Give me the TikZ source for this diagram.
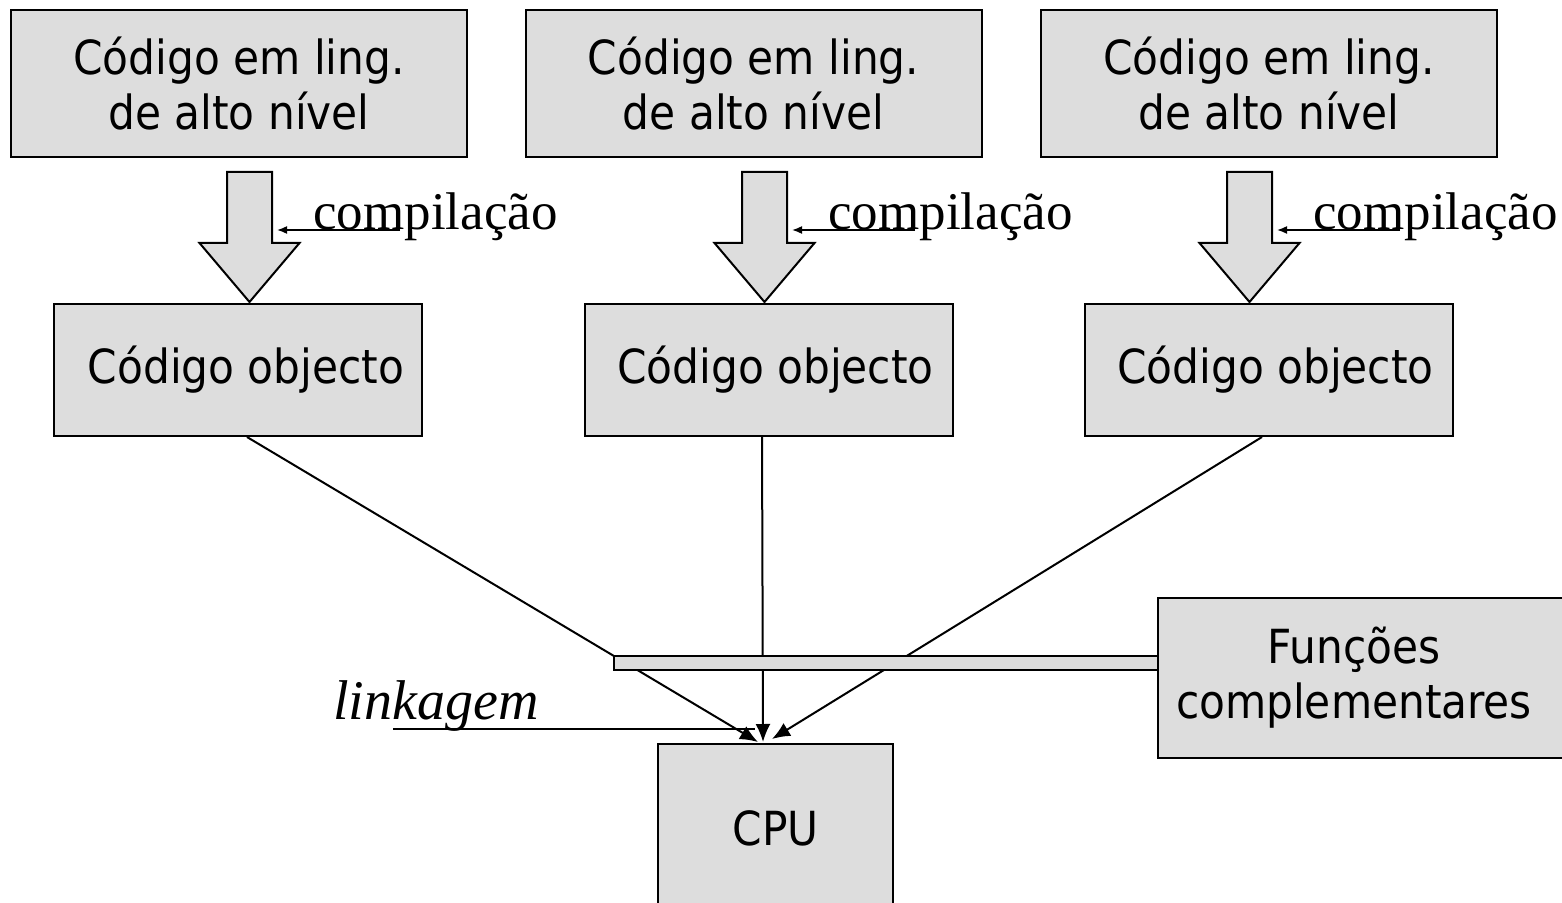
\documentclass[tikz,border=0pt]{standalone}
\usepackage{fontspec}
\setmainfont{Liberation Serif}
\newfontfamily\boxfont{DejaVu Sans Condensed}
\usepackage{tikz}
\usetikzlibrary{shapes,arrows,arrows.meta,calc}
\definecolor{boxgray}{RGB}{221,221,221}
\tikzstyle{line} = [draw, line width=1pt, -{Latex[length=9pt,width=7.5pt]}]
\tikzstyle{pointer} = [draw, line width=0.8pt, -{Latex[length=5pt,width=4pt]}]
\tikzstyle{block} = [draw, rectangle, fill=boxgray, line width=1pt, align=center, font=\boxfont\fontsize{23.5}{27.5}\selectfont]
\tikzstyle{fat} = [draw, fill=boxgray, line width=1pt, line join=miter]
\tikzstyle{note} = [inner sep=0pt, font=\fontsize{26.5}{32}\selectfont]

\begin{document}
\begin{tikzpicture}[x=0.5pt, y=-0.5pt]
        \useasboundingbox (0,0) rectangle (1562,903);
        % source code
        \node[block, minimum width=228pt, minimum height=73.5pt] (src1) at (239,83.5) {Código em ling.\\de alto nível};
        \node[block, minimum width=228pt, minimum height=73.5pt] (src2) at (753.5,83.5) {Código em ling.\\de alto nível};
        \node[block, minimum width=228pt, minimum height=73.5pt] (src3) at (1269,83.5) {Código em ling.\\de alto nível};
        % object code
        \node[block, minimum width=184pt, minimum height=66pt] (obj1) at (238,370) {\hspace*{8pt}Código objecto};
        \node[block, minimum width=184pt, minimum height=66pt] (obj2) at (768.5,370) {\hspace*{7pt}Código objecto};
        \node[block, minimum width=184pt, minimum height=66pt] (obj3) at (1268.5,370) {\hspace*{7pt}Código objecto};
        \node[block, minimum width=117.5pt, minimum height=84pt] (cpu) at (775.5,828) {CPU};
        \node[block, minimum width=212pt, minimum height=80pt] (lib) at (1370,678) {\hspace*{-16pt}Funções\\\hspace*{-16pt}complementares};
        % compilation
        \foreach \x/\n in {249.5/1,764.5/2,1249.5/3} {
            \draw[fat] (\x-22.5,172) -- (\x+22.5,172) -- (\x+22.5,243) -- (\x+50,243)
                -- (\x,302) -- (\x-50,243) -- (\x-22.5,243) -- cycle;
            \node[note, anchor=base west] (cmp\n) at (\x+63.5,230) {compilação};
            \path[pointer] ($(cmp\n.base west)+(87,0)$) -- (\x+27.5,230);
        }
        % linking
        \coordinate (in1) at ($(cpu.north)+(-17.5,-1)$);
        \coordinate (in2) at ($(cpu.north)+(-12.5,-1)$);
        \coordinate (in3) at ($(cpu.north)+(-3.5,-4)$);
        \path[line] ($(obj1.south)+(9,0)$) -- (in1);
        \path[line] ($(obj2.south)+(-6.5,0)$) -- (in2);
        \path[line] ($(obj3.south)+(-6.5,0)$) -- (in3);
        \node[block, minimum width=272pt, minimum height=7pt, inner sep=0pt] (bus) at (886,663) {};
        \node[note, anchor=base west, font=\itshape\fontsize{28}{32}\selectfont] (link) at (333,719) {linkagem};
        \coordinate (linkend) at (755,729);
        \draw[line width=1pt] ($(link.base west)+(60,10)$) -- (linkend);
    \end{tikzpicture}
\end{document}
